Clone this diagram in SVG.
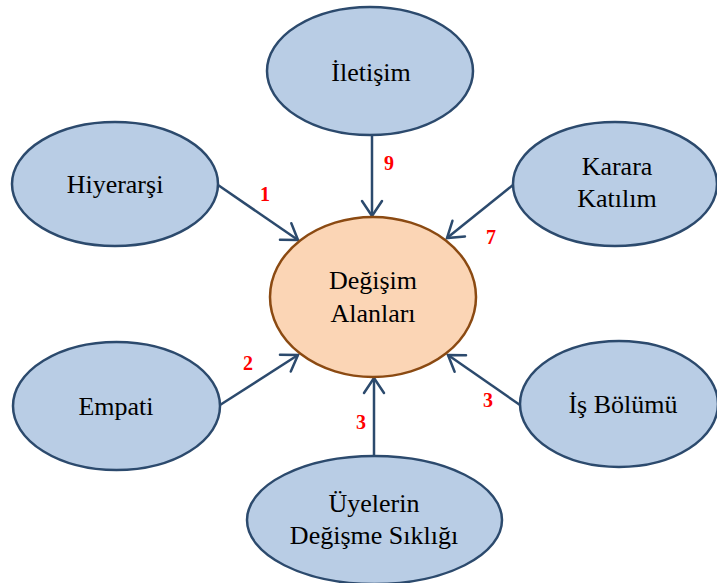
<svg xmlns="http://www.w3.org/2000/svg" width="717" height="583" viewBox="0 0 717 583">
  <style>
    .node { fill: #B9CDE5; stroke: #2C4A6D; stroke-width: 2.5; }
    .hub { fill: #FBD5B5; stroke: #8B4A12; stroke-width: 2.5; }
    .label { font-family: 'Liberation Serif', Tinos, 'Times New Roman', 'DejaVu Serif', serif; font-size: 26px; fill: #000; text-anchor: middle; }
    .edge { stroke: #2C4A6D; stroke-width: 2.5; fill: none; marker-end: url(#chevron); }
    .weight { font-family: 'Liberation Serif', Tinos, 'Times New Roman', 'DejaVu Serif', serif; font-size: 20px; font-weight: bold; fill: #FF0000; text-anchor: middle; }
  </style>
  <defs>
    <marker id="chevron" viewBox="-18 -12 20 24" markerWidth="20" markerHeight="24" refX="0" refY="0" orient="auto" markerUnits="userSpaceOnUse" overflow="visible">
      <path d="M -15,-10 L 0,0 L -15,10" fill="none" stroke="#2C4A6D" stroke-width="2.5" stroke-linecap="round" stroke-linejoin="miter"/>
    </marker>
  </defs>

  <rect width="717" height="583" fill="#FFFFFF"/>

  <g id="connectors">
    <line class="edge" x1="372" y1="135" x2="372" y2="216"/>
    <line class="edge" x1="218" y1="185" x2="298" y2="240"/>
    <line class="edge" x1="513" y1="185" x2="447" y2="238"/>
    <line class="edge" x1="220" y1="405" x2="298" y2="355"/>
    <line class="edge" x1="520" y1="405" x2="448" y2="355"/>
    <line class="edge" x1="374" y1="456" x2="374" y2="378"/>
    <text class="weight" x="389" y="170">9</text>
    <text class="weight" x="265" y="201">1</text>
    <text class="weight" x="491" y="244">7</text>
    <text class="weight" x="248" y="370">2</text>
    <text class="weight" x="488" y="407">3</text>
    <text class="weight" x="361" y="429">3</text>
  </g>

  <g id="iletisim">
    <ellipse class="node" cx="370" cy="71" rx="103" ry="64"/>
    <text class="label" x="371" y="81">İletişim</text>
  </g>

  <g id="hiyerarsi">
    <ellipse class="node" cx="115" cy="184" rx="103" ry="62"/>
    <text class="label" x="115" y="193">Hiyerarşi</text>
  </g>

  <g id="karara-katilim">
    <ellipse class="node" cx="615" cy="184" rx="102" ry="62"/>
    <text class="label" x="617" y="175">Karara</text>
    <text class="label" x="617" y="207">Katılım</text>
  </g>

  <g id="degisim-alanlari">
    <ellipse class="hub" cx="373" cy="297" rx="103" ry="80"/>
    <text class="label" x="373" y="289">Değişim</text>
    <text class="label" x="373" y="322">Alanları</text>
  </g>

  <g id="empati">
    <ellipse class="node" cx="116.5" cy="406" rx="103.5" ry="64"/>
    <text class="label" x="116" y="415">Empati</text>
  </g>

  <g id="is-bolumu">
    <ellipse class="node" cx="619" cy="404" rx="99" ry="63"/>
    <text class="label" x="623" y="413">İş Bölümü</text>
  </g>

  <g id="uyelerin-degisme-sikligi">
    <ellipse class="node" cx="374.5" cy="520" rx="127.5" ry="64"/>
    <text class="label" x="374" y="512">Üyelerin</text>
    <text class="label" x="374" y="544">Değişme Sıklığı</text>
  </g>
</svg>
